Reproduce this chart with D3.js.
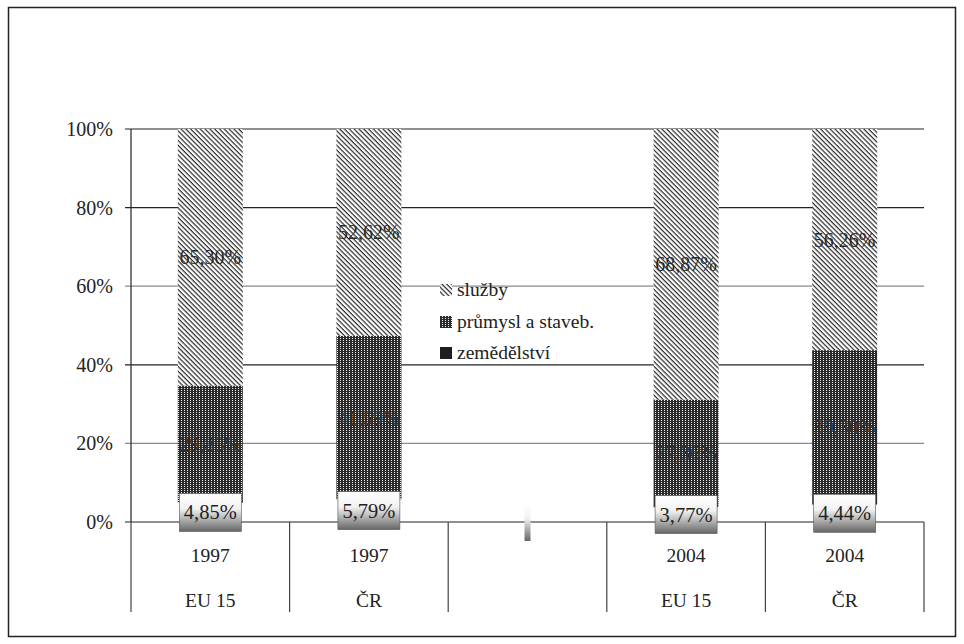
<!DOCTYPE html>
<html><head><meta charset="utf-8">
<script src="https://cdn.jsdelivr.net/npm/d3@7"></script>
<style>body{margin:0;background:#fff}svg{display:block}svg text{font-family:"Liberation Serif",serif}</style>
</head><body>
<script>
const years = ["1997","1997","","2004","2004"];
const groups = ["EU 15","ČR","","EU 15","ČR"];
const agriculture = [4.85,5.79,0,3.77,4.44];
const industry = [29.85,41.59,0,27.36,39.30];
const services = [65.30,52.62,0,68.87,56.26];
const yTicks = [0,20,40,60,80,100];
const seriesNames = ["služby","průmysl a staveb.","zemědělství"];

const W=964,H=644;
const svg=d3.select("body").append("svg").attr("width",W).attr("height",H);
const defs=svg.append("defs");
const pS=defs.append("pattern").attr("id","pS").attr("patternUnits","userSpaceOnUse").attr("width",3.4).attr("height",3.4).attr("patternTransform","rotate(45)");
pS.append("rect").attr("width",3.4).attr("height",3.4).attr("fill","#fff");
pS.append("rect").attr("y",0).attr("width",3.4).attr("height",1.2).attr("fill","#2a2a2a");
const pI=defs.append("pattern").attr("id","pI").attr("patternUnits","userSpaceOnUse").attr("width",3).attr("height",2);
pI.append("rect").attr("width",3).attr("height",2).attr("fill","#2a2a2a");
pI.append("rect").attr("x",1).attr("y",0).attr("width",1).attr("height",1).attr("fill","#ececec");
const gr=defs.append("linearGradient").attr("id","gA").attr("x1",0).attr("y1",0).attr("x2",0).attr("y2",1);
gr.append("stop").attr("offset",0).attr("stop-color","#fff");
gr.append("stop").attr("offset",0.4).attr("stop-color","#f2f2f2");
gr.append("stop").attr("offset",1).attr("stop-color","#666");

svg.append("rect").attr("x",8.5).attr("y",7.5).attr("width",947).attr("height",629).attr("fill","none").attr("stroke","#222").attr("stroke-width",1.5);

const x0=131,x1=924;
const x=d3.scaleBand().domain(d3.range(5)).range([x0,x1]);
const y=d3.scaleLinear().domain([0,100]).range([522,129]);

svg.append("g").selectAll("line").data(yTicks).join("line")
 .attr("x1",x0-6).attr("x2",x1).attr("y1",d=>y(d)).attr("y2",d=>y(d))
 .attr("stroke",d=>(d===20||d===60)?"#8a8a8a":"#222").attr("stroke-width",1.2);
svg.append("line").attr("x1",x0).attr("x2",x0).attr("y1",y(100)).attr("y2",y(0)).attr("stroke","#222").attr("stroke-width",1.2);
svg.append("g").selectAll("text").data(yTicks).join("text")
 .attr("x",113).attr("y",d=>y(d)+7).attr("text-anchor","end").attr("font-size",20).attr("fill","#222").text(d=>d+"%");

const divs=d3.range(6).map(i=>i<5?x(i):x1);
svg.append("g").selectAll("line").data(divs).join("line")
 .attr("x1",d=>d).attr("x2",d=>d).attr("y1",y(0)).attr("y2",612).attr("stroke","#444").attr("stroke-width",1.2);
svg.append("g").selectAll("text").data(years).join("text")
 .attr("x",(d,i)=>x(i)+x.bandwidth()/2).attr("y",562).attr("text-anchor","middle").attr("font-size",19.5).attr("fill","#222").text(d=>d);
svg.append("g").selectAll("text").data(groups).join("text")
 .attr("x",(d,i)=>x(i)+x.bandwidth()/2).attr("y",607).attr("text-anchor","middle").attr("font-size",19.5).attr("fill","#222").text(d=>d);

const bw=65;
const fmt=v=>v.toFixed(2).replace(".",",")+"%";
const cx=i=>x(i)+x.bandwidth()/2;
const idx=d3.range(5).filter(i=>services[i]>0);
svg.append("g").selectAll("rect").data(idx).join("rect")
 .attr("x",i=>cx(i)-bw/2).attr("width",bw)
 .attr("y",i=>y(agriculture[i]+industry[i])).attr("height",i=>y(agriculture[i])-y(agriculture[i]+industry[i]))
 .attr("fill","url(#pI)");
svg.append("g").selectAll("rect").data(idx).join("rect")
 .attr("x",i=>cx(i)-bw/2).attr("width",bw)
 .attr("y",i=>y(100)).attr("height",i=>y(agriculture[i]+industry[i])-y(100))
 .attr("fill","url(#pS)");
svg.append("g").selectAll("text").data(idx).join("text")
 .attr("x",i=>cx(i)).attr("y",i=>y(agriculture[i]+industry[i]+services[i]/2)+7).attr("text-anchor","middle")
 .attr("font-size",20).attr("fill","#2a2a2a").text(i=>fmt(services[i]));
svg.append("g").selectAll("text").data(idx).join("text")
 .attr("x",i=>cx(i)).attr("y",i=>y(agriculture[i]+industry[i]/2)+7).attr("text-anchor","middle")
 .attr("font-size",20).attr("fill","#333").text(i=>fmt(industry[i]));
svg.append("g").selectAll("rect").data(d3.range(5)).join("rect")
 .attr("x",i=>cx(i)-(agriculture[i]>0?31:3)).attr("width",i=>agriculture[i]>0?62:6)
 .attr("y",i=>y(agriculture[i]/2)-19).attr("height",38)
 .attr("fill","url(#gA)").attr("stroke",i=>agriculture[i]>0?"#555":"none").attr("stroke-width",0.6);
svg.append("g").selectAll("text").data(idx).join("text")
 .attr("x",i=>cx(i)).attr("y",i=>y(agriculture[i]/2)+7).attr("text-anchor","middle")
 .attr("font-size",20.5).attr("fill","#222").text(i=>fmt(agriculture[i]));

const lg=svg.append("g");
const fills=["url(#pS)","url(#pI)","#1e1e1e"];
const ly=[290,322,353];
seriesNames.forEach((n,i)=>{
  lg.append("rect").attr("x",440).attr("y",ly[i]-6).attr("width",12).attr("height",12).attr("fill",fills[i]);
  lg.append("text").attr("x",457).attr("y",ly[i]+6).attr("font-size",19.5).attr("fill","#222").text(n);
});
svg.selectAll("text").attr("font-family","Liberation Serif");
</script>
</body></html>
